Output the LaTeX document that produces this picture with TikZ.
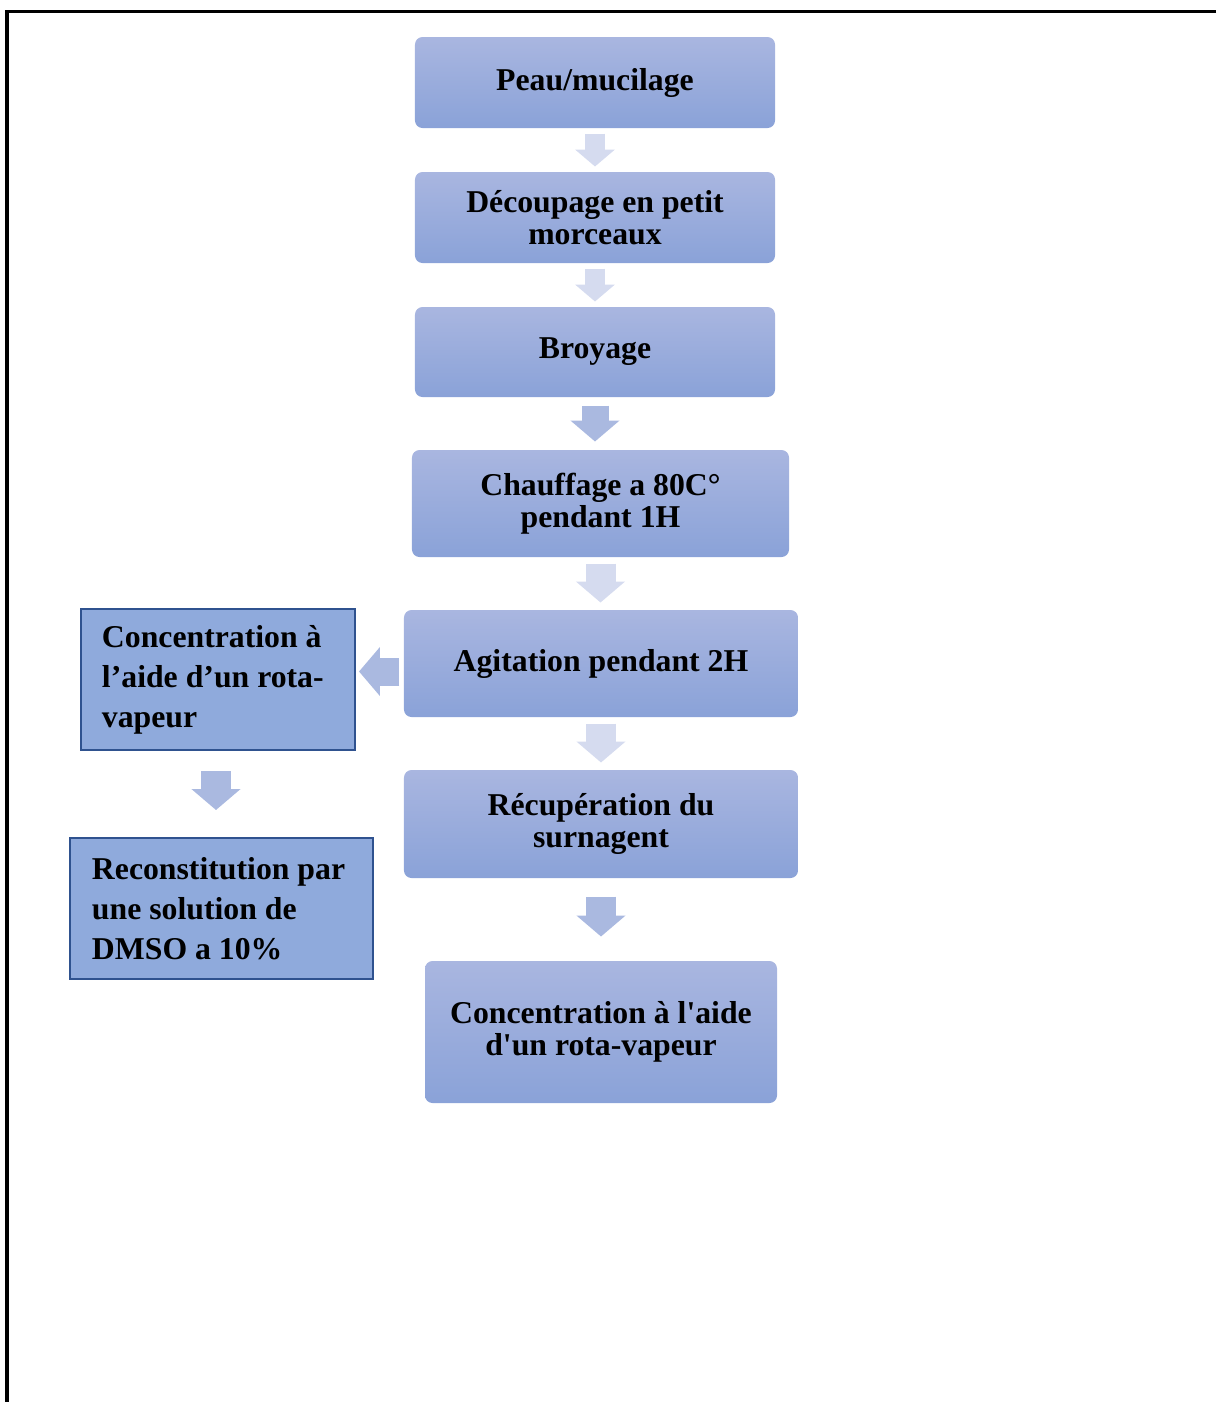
\documentclass[tikz,border=0pt]{standalone}
\usepackage{fontspec}
\setmainfont{Liberation Serif}
\usetikzlibrary{positioning,arrows.meta}
\definecolor{hautbleu}{HTML}{A9B6E0}
\definecolor{basbleu}{HTML}{8AA2D8}
\definecolor{flecheclaire}{HTML}{D5DBEF}
\definecolor{flechefoncee}{HTML}{AAB9E0}
\definecolor{boitebleu}{HTML}{8FAADC}
\definecolor{bordbleu}{HTML}{2F528F}

\begin{document}
\begin{tikzpicture}[x=0.4pt,y=-0.4pt,on grid,
    etape/.style={rounded corners=3pt,top color=hautbleu,bottom color=basbleu,
      align=center,inner sep=0pt,font=\fontsize{12.7}{13}\selectfont\bfseries},
    annexe/.style={fill=boitebleu,draw=bordbleu,line width=0.8pt,align=flush left,
      inner ysep=0pt,minimum height=56.4pt,font=\fontsize{12.7}{16}\selectfont\bfseries},
    petitefleche/.style={line width=8pt,color=flecheclaire,
      -{Triangle[width=15.6pt,length=6.8pt]}},
    fleche/.style={line width=12pt,color=#1,
      -{Triangle[width=19.2pt,length=8.4pt]}},
    fleche/.default=flechefoncee]
    \useasboundingbox (0,0) rectangle (1216,1402);
    \draw[line width=1.2pt] (1216,11) -- (7,11) -- (7,1402);

    % colonne principale
    \node[etape, minimum width=144pt, minimum height=36.4pt] (peau) at (595,82.5) {Peau/mucilage};
    \node[etape, minimum width=144pt, minimum height=36.4pt] (decoupe) [below=54pt of peau] {Découpage en petit\\morceaux};
    \node[etape, minimum width=144pt, minimum height=36pt] (broyage) [below=53.8pt of decoupe] {Broyage};
    \node[etape, minimum width=150.8pt, minimum height=42.8pt] (chauffe) [below=60.6pt of broyage, xshift=2.2pt] {Chauffage a 80C°\\pendant 1H};
    \node[etape, minimum width=157.6pt, minimum height=42.8pt] (agite) [below=64pt of chauffe, xshift=0.2pt] {Agitation pendant 2H};
    \node[etape, minimum width=157.6pt, minimum height=43.2pt] (surnage) [below=64.2pt of agite] {Récupération du\\surnagent};
    \node[etape, minimum width=140.8pt, minimum height=56.8pt] (concb) [below=83.2pt of surnage] {Concentration à l\textquotesingle aide\\d\textquotesingle un rota-vapeur};

    % branche de gauche
    \node[annexe, text width=92.8pt, inner xsep=8.4pt] (conca) [below left=6.4pt and 153.2pt of agite] {Concentration à\\l’aide d’un rota-\\vapeur};
    \node[annexe, text width=103.6pt, inner xsep=8.8pt] (reconst) [below=91.6pt of conca, xshift=1.4pt] {Reconstitution par\\une solution de\\DMSO a 10\%};

    \draw[petitefleche, shorten <=2pt, shorten >=2pt] (peau.south) -- (decoupe.north);
    \draw[petitefleche, shorten <=2pt, shorten >=2pt] (decoupe.south) -- (broyage.north);
    \draw[fleche, line width=10.8pt, shorten <=3.2pt, shorten >=3.2pt] (broyage.south) -- (broyage.south |- chauffe.north);
    \draw[fleche=flecheclaire, shorten <=2.4pt, shorten >=2.8pt] (chauffe.south) -- (chauffe.south |- agite.north);
    \draw[fleche=flecheclaire, shorten <=2.4pt, shorten >=2.8pt] (agite.south) -- (surnage.north);
    \draw[fleche, shorten <=7.2pt, shorten >=9.6pt] (surnage.south) -- (concb.north);
    \draw[fleche, line width=11.2pt, shorten <=1.6pt, shorten >=1.2pt] ([yshift=-3.2pt]agite.west) -- ([yshift=-3.2pt]agite.west -| conca.east);
    \draw[fleche, shorten <=8pt, shorten >=10.8pt] ([xshift=-0.8pt]conca.south) -- ([xshift=-0.8pt]conca.south |- reconst.north);
\end{tikzpicture}
\end{document}
